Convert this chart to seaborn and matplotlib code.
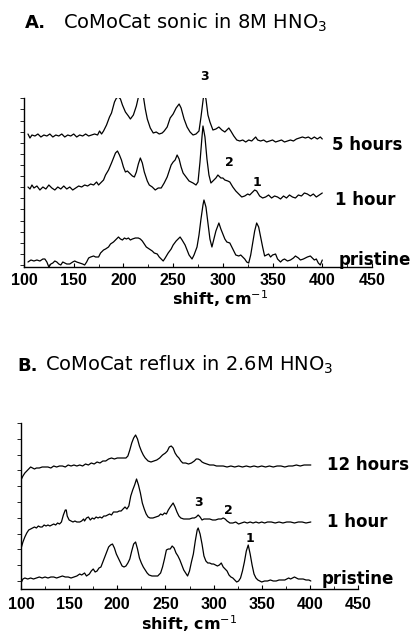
import matplotlib
matplotlib.use("Agg")
import matplotlib.pyplot as plt
import numpy as np
import seaborn as sns

# ── Data (intensity is arbitrary, offset per trace) ──

# Panel A: CoMoCat sonic in 8M HNO3
A_5H_SHIFT = [104, 106, 108, 111, 114, 117, 120, 123, 126, 129, 132, 135, 138, 141, 144, 147, 150, 153,
              156, 159, 162, 165, 168, 171, 174, 176, 178, 180, 183, 186, 188, 191, 193, 195, 197, 199,
              202, 205, 207, 210, 213, 216, 218, 220, 222, 224, 227, 230, 233, 236, 239, 241, 244, 247,
              250, 253, 256, 258, 261, 264, 267, 270, 273, 276, 278, 280, 281, 283, 285, 287, 290, 293,
              296, 299, 302, 304, 306, 308, 311, 314, 317, 320, 323, 326, 329, 331, 333, 335, 338, 341,
              344, 347, 350, 353, 356, 359, 362, 365, 368, 371, 374, 377, 380, 383, 386, 389, 392, 395,
              398, 400]
A_5H_INT = [133, 129, 132, 131, 133, 130, 132, 131, 133, 130, 132, 131, 133, 130, 132, 131, 133, 130,
            132, 131, 133, 131, 132, 133, 132, 136, 133, 136, 142, 150, 154, 165, 169, 170, 168, 162,
            155, 151, 148, 152, 161, 174, 178, 171, 158, 148, 139, 134, 135, 133, 134, 136, 140, 149,
            153, 159, 163, 159, 148, 140, 135, 132, 133, 136, 150, 166, 174, 168, 152, 145, 137, 138,
            140, 137, 135, 137, 139, 136, 131, 127, 126, 127, 125, 127, 126, 128, 130, 127, 126, 127,
            125, 126, 127, 125, 126, 127, 125, 126, 127, 126, 128, 129, 130, 129, 130, 128, 130, 128,
            130, 128]

A_1H_SHIFT = [104, 106, 108, 110, 113, 116, 119, 122, 125, 128, 131, 134, 137, 140, 143, 146, 149, 152,
              155, 158, 161, 164, 167, 170, 173, 175, 177, 180, 182, 185, 188, 190, 192, 194, 196, 198,
              200, 202, 204, 207, 209, 211, 213, 215, 217, 219, 221, 224, 226, 229, 232, 235, 238, 241,
              244, 246, 248, 250, 252, 254, 256, 258, 260, 263, 266, 270, 273, 275, 277, 279, 280, 282,
              284, 286, 288, 290, 293, 295, 298, 300, 302, 305, 307, 310, 313, 316, 319, 322, 325, 327,
              330, 332, 334, 337, 340, 343, 346, 349, 352, 355, 358, 361, 364, 367, 370, 373, 376, 379,
              382, 385, 388, 391, 394, 397, 400]
A_1H_INT = [80, 78, 82, 79, 81, 77, 80, 78, 82, 79, 77, 80, 78, 81, 78, 80, 77, 79,
            81, 80, 82, 81, 83, 82, 85, 82, 84, 87, 92, 97, 104, 109, 114, 116, 112, 107,
            100, 95, 96, 93, 91, 90, 95, 103, 109, 104, 95, 86, 82, 80, 77, 79, 79, 84,
            90, 96, 102, 105, 107, 112, 108, 100, 94, 90, 86, 84, 82, 85, 105, 130, 141, 130,
            108, 92, 84, 86, 89, 92, 89, 89, 87, 86, 85, 80, 76, 73, 70, 71, 73, 72,
            75, 77, 76, 71, 69, 70, 72, 69, 71, 70, 68, 71, 69, 72, 70, 69, 72, 71,
            74, 73, 71, 73, 70, 72, 74]

A_PR_SHIFT = [104, 107, 110, 113, 116, 119, 121, 123, 125, 127, 129, 131, 133, 135, 137, 139, 141, 143,
              146, 149, 151, 153, 156, 159, 161, 163, 165, 167, 170, 172, 175, 177, 180, 182, 185, 187,
              190, 192, 195, 197, 199, 201, 203, 205, 207, 209, 212, 215, 217, 219, 221, 223, 226, 229,
              231, 234, 236, 238, 240, 242, 245, 248, 250, 253, 255, 257, 259, 262, 264, 266, 269, 271,
              274, 276, 278, 280, 281, 283, 285, 287, 289, 291, 293, 296, 298, 300, 302, 304, 307, 309,
              311, 313, 316, 318, 320, 322, 324, 326, 328, 330, 332, 334, 336, 338, 340, 342, 344, 346,
              348, 350, 353, 355, 358, 360, 362, 365, 368, 371, 373, 376, 378, 381, 383, 385, 388, 390,
              392, 394, 396, 398, 400]
A_PR_INT = [5, 7, 6, 7, 6, 8, 8, 5, 0, 3, 4, 6, 5, 3, 2, 5, 4, 3,
            3, 5, 6, 5, 4, 3, 2, 5, 9, 10, 11, 10, 10, 14, 17, 18, 20, 23,
            25, 27, 30, 28, 27, 29, 28, 29, 27, 28, 29, 29, 28, 26, 23, 20, 18, 16,
            14, 13, 10, 8, 6, 9, 14, 18, 22, 26, 28, 30, 27, 22, 17, 12, 8, 12,
            20, 32, 48, 62, 67, 60, 44, 28, 20, 28, 36, 44, 38, 33, 28, 25, 24, 20,
            16, 12, 11, 12, 10, 8, 5, 4, 12, 24, 36, 44, 40, 30, 20, 11, 12, 13,
            10, 12, 13, 8, 5, 7, 8, 6, 7, 9, 11, 9, 7, 8, 9, 10, 11, 9,
            7, 8, 4, 2, 7]

# Panel B: CoMoCat reflux in 2.6M HNO3
B_12H_SHIFT = [100.5, 102, 104, 106, 108, 110, 112, 114, 116, 119, 122, 125, 128, 131, 134, 137, 140, 143,
               146, 149, 152, 155, 158, 161, 164, 167, 170, 173, 176, 179, 182, 185, 188, 191, 194, 197,
               200, 203, 206, 209, 211, 213, 215, 217, 219, 221, 223, 225, 227, 229, 232, 235, 238, 241,
               244, 247, 250, 252, 254, 256, 258, 260, 262, 264, 266, 268, 271, 274, 277, 280, 282, 284,
               286, 288, 290, 293, 296, 300, 303, 306, 310, 314, 318, 322, 326, 330, 334, 338, 342, 346,
               350, 354, 358, 362, 366, 370, 374, 378, 382, 386, 390, 394, 398, 401]
B_12H_INT = [110, 113, 116, 118, 120, 122, 121, 120, 121, 121, 122, 122, 122, 121, 123, 122, 123, 123,
             122, 124, 123, 124, 123, 124, 123, 125, 124, 126, 125, 127, 126, 128, 128, 130, 131, 130,
             131, 131, 131, 131, 133, 139, 146, 151, 154, 150, 143, 138, 134, 131, 128, 127, 128, 129,
             131, 134, 136, 138, 142, 143, 141, 136, 133, 131, 128, 126, 126, 125, 126, 128, 130, 130,
             129, 127, 126, 125, 124, 124, 123, 123, 123, 122, 123, 122, 123, 122, 123, 122, 123, 122,
             123, 122, 123, 122, 123, 123, 122, 123, 123, 124, 123, 124, 124, 124]

B_1H_SHIFT = [100.5, 102, 104, 106, 108, 110, 112, 114, 116, 118, 120, 122, 124, 126, 128, 130, 132, 134,
              136, 138, 140, 142, 144, 146, 147, 148, 150, 152, 154, 156, 158, 161, 163, 165, 166, 168,
              170, 172, 174, 176, 178, 180, 182, 184, 186, 188, 190, 192, 194, 196, 198, 200, 202, 204,
              206, 208, 210, 212, 214, 216, 218, 220, 222, 224, 226, 228, 230, 232, 234, 237, 240, 243,
              245, 247, 249, 251, 253, 255, 258, 260, 262, 264, 266, 269, 272, 275, 278, 280, 282, 284,
              286, 288, 290, 293, 296, 299, 302, 305, 308, 310, 312, 314, 317, 320, 323, 326, 329, 332,
              335, 338, 341, 344, 347, 350, 353, 356, 360, 364, 368, 372, 376, 380, 384, 388, 392, 396,
              401]
B_1H_INT = [42, 47, 52, 56, 59, 60, 61, 62, 61, 63, 62, 62, 64, 63, 64, 63, 64, 65,
            64, 66, 65, 67, 74, 79, 79, 73, 69, 68, 67, 68, 67, 67, 68, 70, 68, 71,
            72, 69, 71, 70, 72, 71, 72, 71, 73, 73, 74, 75, 74, 77, 77, 77, 78, 78,
            80, 82, 80, 83, 93, 99, 104, 110, 104, 96, 86, 80, 75, 72, 71, 71, 72, 73,
            75, 74, 76, 75, 79, 82, 86, 82, 77, 73, 71, 70, 70, 70, 71, 71, 72, 74,
            72, 69, 70, 70, 70, 69, 69, 70, 70, 71, 70, 68, 66, 66, 67, 65, 66, 67,
            66, 67, 66, 67, 66, 67, 66, 67, 67, 66, 67, 66, 67, 67, 66, 67, 67, 66,
            67]

B_PR_SHIFT = [100.5, 102, 104, 107, 110, 113, 116, 119, 122, 125, 128, 131, 134, 137, 140, 143, 146, 149,
              152, 155, 158, 161, 163, 166, 168, 171, 173, 175, 177, 179, 181, 183, 185, 187, 189, 191,
              193, 195, 197, 199, 201, 203, 205, 207, 209, 211, 213, 215, 217, 219, 221, 223, 225, 227,
              229, 231, 233, 236, 239, 242, 245, 247, 249, 251, 253, 255, 257, 259, 261, 263, 265, 267,
              269, 271, 273, 275, 277, 279, 281, 283, 284, 286, 288, 290, 292, 294, 296, 298, 300, 302,
              304, 306, 308, 310, 312, 314, 316, 318, 320, 322, 324, 326, 328, 330, 332, 334, 336, 338,
              340, 342, 344, 346, 348, 350, 353, 356, 359, 362, 365, 368, 371, 374, 376, 378, 380, 382,
              384, 386, 388, 390, 393, 396, 399, 401]
B_PR_INT = [7, 10, 11, 10, 11, 10, 11, 12, 11, 12, 11, 12, 12, 11, 12, 13, 12, 12,
            11, 12, 13, 15, 14, 16, 13, 15, 18, 20, 17, 18, 21, 22, 27, 32, 37, 42,
            44, 45, 41, 35, 31, 27, 23, 22, 23, 26, 30, 38, 45, 47, 40, 31, 26, 22,
            19, 16, 14, 13, 13, 13, 16, 22, 30, 39, 40, 40, 43, 41, 36, 33, 29, 24,
            19, 16, 13, 18, 27, 35, 48, 59, 61, 55, 45, 33, 28, 26, 26, 25, 25, 24,
            23, 24, 26, 22, 20, 18, 14, 12, 11, 9, 7, 8, 11, 18, 27, 38, 44, 35,
            24, 15, 11, 9, 8, 7, 8, 8, 9, 8, 8, 9, 9, 9, 10, 11, 10, 11,
            12, 11, 10, 10, 10, 9, 9, 8]

A_TRACES = [(A_5H_SHIFT, A_5H_INT), (A_1H_SHIFT, A_1H_INT), (A_PR_SHIFT, A_PR_INT)]
A_LABELS = ["5 hours", "1 hour", "pristine"]
A_LABEL_POS = [(410, 117), (413, 62), (416, 2)]
A_PEAKS = ["3", "2", "1"]
A_PEAK_POS = [(282, 191), (307, 104), (334.5, 85)]

B_TRACES = [(B_12H_SHIFT, B_12H_INT), (B_1H_SHIFT, B_1H_INT), (B_PR_SHIFT, B_PR_INT)]
B_LABELS = ["12 hours", "1 hour", "pristine"]
B_LABEL_POS = [(418, 119), (418, 62), (412.5, 5)]
B_PEAKS = ["3", "2", "1"]
B_PEAK_POS = [(284.8, 87), (315, 79), (337.8, 51)]

X_TICKS = [100, 150, 200, 250, 300, 350, 400, 450]

# ── Style ────────────────────────────────────────────────────────────────────

sns.set_style("ticks")
plt.rcParams["font.family"] = ["DejaVu Sans"]
plt.rcParams["text.color"] = "black"
plt.rcParams["axes.labelcolor"] = "black"
plt.rcParams["axes.edgecolor"] = "black"
plt.rcParams["axes.linewidth"] = 1.0
plt.rcParams["xtick.color"] = "black"
plt.rcParams["ytick.color"] = "black"

W, H = 411, 635
fig = plt.figure(figsize=(W / 100, H / 100), dpi=100)


def px_box(left, right, top, bottom):
    return [left / W, 1 - bottom / H, (right - left) / W, (bottom - top) / H]


def draw_panel(rect, ymax, traces, labels, label_pos, peaks, peak_pos, yticks, pad, xlabel_pos):
    ax = fig.add_axes(rect)
    for (xs, ys) in traces:
        sns.lineplot(x=xs, y=ys, ax=ax, color="black", linewidth=0.9)

    ax.set_xlim(100, 450)
    ax.set_ylim(0, ymax)
    sns.despine(ax=ax)

    ax.set_xticks(X_TICKS)
    ax.set_xticks(np.arange(125, 450, 50), minor=True)
    ax.tick_params(axis="x", which="major", direction="in", length=3, width=0.8, pad=pad)
    ax.tick_params(axis="x", which="minor", direction="in", length=2, width=0.6)
    ax.set_xticklabels([str(t) for t in X_TICKS])
    for lab in ax.get_xticklabels():
        lab.set_fontfamily("Liberation Sans")
        lab.set_fontweight("bold")
        lab.set_fontsize(11.5)

    ax.set_yticks(yticks)
    ax.tick_params(axis="y", direction="out", length=3, width=0.6, labelleft=False)

    for txt, (x, y) in zip(labels, label_pos):
        ax.text(x, y, txt, fontsize=12, fontweight="bold", ha="left", va="baseline", clip_on=False)
    for txt, (x, y) in zip(peaks, peak_pos):
        ax.text(x, y, txt, fontsize=9, fontweight="bold", ha="center", va="center", clip_on=False)

    ax.set_xlabel("shift, cm$^{-1}$", fontsize=11.5, fontweight="bold")
    ax.xaxis.set_label_coords(*xlabel_pos)
    ax.set_ylabel("")
    return ax


# Panel A
draw_panel(px_box(24, 372, 98, 267), 169, A_TRACES, A_LABELS, A_LABEL_POS, A_PEAKS, A_PEAK_POS,
           np.linspace(2, 168.7, 16), 4.3, (0.563, -0.127))
fig.text(25 / W, 1 - 28.3 / H, "A.", fontsize=13, fontweight="bold", va="baseline")
fig.text(63 / W, 1 - 28.3 / H, "CoMoCat sonic in 8M HNO$_3$", fontsize=14, va="baseline")

# Panel B
draw_panel(px_box(21, 358, 423, 589), 166, B_TRACES, B_LABELS, B_LABEL_POS, B_PEAKS, B_PEAK_POS,
           np.linspace(8, 166, 11), 5.5, (0.5, -0.145))
fig.text(17 / W, 1 - 371 / H, "B.", fontsize=13, fontweight="bold", va="baseline")
fig.text(45 / W, 1 - 371 / H, "CoMoCat reflux in 2.6M HNO$_3$", fontsize=14, va="baseline")

fig.savefig("out.png", dpi=100)
